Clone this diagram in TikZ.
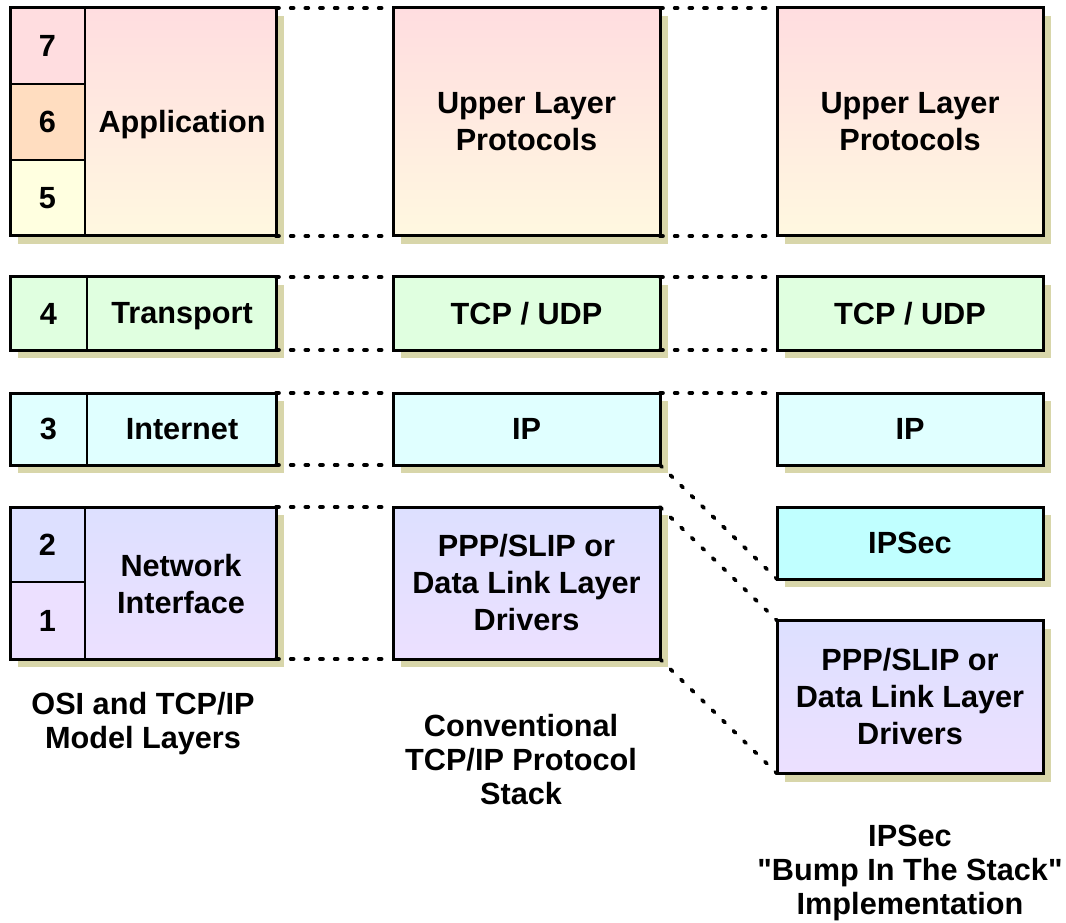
\documentclass[tikz,border=0pt]{standalone}
\usepackage{fontspec}
\setmainfont{Liberation Sans}[Ligatures=TeXOff]
\usetikzlibrary{shadows}
\definecolor{shadowc}{RGB}{216,214,170}
\definecolor{pinktop}{RGB}{255,221,224}
\definecolor{creambot}{RGB}{255,248,224}
\definecolor{peach}{RGB}{255,221,192}
\definecolor{lyellow}{RGB}{255,255,224}
\definecolor{lgreen}{RGB}{224,255,224}
\definecolor{lcyan}{RGB}{224,255,255}
\definecolor{cyan2}{RGB}{192,255,255}
\definecolor{lavtop}{RGB}{221,224,255}
\definecolor{lavbot}{RGB}{236,224,255}
\begin{document}
\begin{tikzpicture}[x=0.75pt,y=-0.75pt,
  txt/.style={font=\bfseries\fontsize{23}{27.75}\selectfont, align=center, text=black},
  box/.style={txt, draw=black, line width=2.25pt, inner sep=0pt, outer sep=0pt,
    drop shadow={shadow xshift=6pt, shadow yshift=-6pt, fill=shadowc, opacity=1, draw=none}},
  cell/.style={txt, draw=black, line width=0.9pt, inner sep=0pt, outer sep=0pt},
  upper/.style={box, top color=pinktop, bottom color=creambot},
  trans/.style={box, fill=lgreen},
  inet/.style={box, fill=lcyan},
  netw/.style={box, top color=lavtop, bottom color=lavbot},
  dotline/.style={draw=black, line width=2.8pt, line cap=round, dash pattern=on 2.2pt off 8.8pt},
  lbl/.style={font=\bfseries\fontsize{23}{25.5}\selectfont, align=center, text=black}]
\useasboundingbox (0,0) rectangle (1066,923);

% ---------- column 1 ----------
\node[upper, minimum width=199.5pt, minimum height=171pt] (app) at (143,122) {};
\node[cell, fill=pinktop, minimum width=56.25pt, minimum height=57pt] (c7) at (47.5,46) {7};
\node[cell, fill=peach, minimum width=56.25pt, minimum height=57pt] (c6) at (47.5,122) {6};
\node[cell, fill=lyellow, minimum width=56.25pt, minimum height=57pt] (c5) at (47.5,198) {5};
\node[txt] (applbl) at (182,125) {Application};
\draw[line width=2.25pt] (app.north west) rectangle (app.south east);

\node[trans, minimum width=199.5pt, minimum height=54.75pt] (tr1) at (143,313.5) {};
\node[cell, minimum width=57.75pt, minimum height=54.75pt] (c4) at (48.5,313.5) {4};
\node[txt] (trlbl) at (182,316) {Transport};
\draw[line width=2.25pt] (tr1.north west) rectangle (tr1.south east);

\node[inet, minimum width=199.5pt, minimum height=54pt] (in1) at (143,429) {};
\node[cell, minimum width=57.75pt, minimum height=54pt] (c3) at (48.5,429) {3};
\node[txt] (inlbl) at (182,429) {Internet};
\draw[line width=2.25pt] (in1.north west) rectangle (in1.south east);

\node[netw, minimum width=199.5pt, minimum height=114pt] (nw1) at (143,583) {};
\node[cell, fill=lavtop, minimum width=56.25pt, minimum height=56.25pt] (c2) at (47.5,544.5) {2};
\node[cell, fill=lavbot, minimum width=56.25pt, minimum height=57.75pt] (c1) at (47.5,620.5) {1};
\node[txt] (nwlbl) at (181,584) {Network\\Interface};
\draw[line width=2.25pt] (nw1.north west) rectangle (nw1.south east);

% ---------- column 2 ----------
\node[upper, minimum width=200.25pt, minimum height=171pt] (up2) at (526.5,122) {Upper Layer\\Protocols};
\node[trans, minimum width=200.25pt, minimum height=54.75pt] (tr2) at (526.5,313.5) {TCP / UDP};
\node[inet, minimum width=200.25pt, minimum height=54pt] (in2) at (526.5,429) {IP};
\node[netw, minimum width=200.25pt, minimum height=114pt] (nw2) at (526.5,583) {PPP/SLIP or\\Data Link Layer\\Drivers};

% ---------- column 3 ----------
\node[upper, minimum width=199.5pt, minimum height=171pt] (up3) at (910,122) {Upper Layer\\Protocols};
\node[trans, minimum width=199.5pt, minimum height=54.75pt] (tr3) at (910,313.5) {TCP / UDP};
\node[inet, minimum width=199.5pt, minimum height=54pt] (in3) at (910,429) {IP};
\node[box, fill=cyan2, minimum width=199.5pt, minimum height=54pt] (ips3) at (910,543) {IPSec};
\node[netw, minimum width=199.5pt, minimum height=114.75pt] (nw3) at (910,697) {PPP/SLIP or\\Data Link Layer\\Drivers};

% ---------- dotted connectors ----------
\draw[dotline] (app.north east) -- (up2.north west);
\draw[dotline] (app.south east) -- (up2.south west);
\draw[dotline] (tr1.north east) -- (tr2.north west);
\draw[dotline] (tr1.south east) -- (tr2.south west);
\draw[dotline] (in1.north east) -- (in2.north west);
\draw[dotline] (in1.south east) -- (in2.south west);
\draw[dotline] (nw1.north east) -- (nw2.north west);
\draw[dotline] (nw1.south east) -- (nw2.south west);

\draw[dotline] (up2.north east) -- (up3.north west);
\draw[dotline] (up2.south east) -- (up3.south west);
\draw[dotline] (tr2.north east) -- (tr3.north west);
\draw[dotline] (tr2.south east) -- (tr3.south west);
\draw[dotline] (in2.north east) -- (in3.north west);
\draw[dotline] (in2.south east) -- (ips3.south west);
\draw[dotline] (nw2.north east) -- (nw3.north west);
\draw[dotline] (nw2.south east) -- (nw3.south west);

% ---------- captions ----------
\node[lbl] (cap1) at (143,724) {OSI and TCP/IP\\Model Layers};
\node[lbl] (cap2) at (521,760) {Conventional\\TCP/IP Protocol\\Stack};
\node[lbl] (cap3) at (910,873) {IPSec\\"Bump In The Stack"\\Implementation};
\end{tikzpicture}
\end{document}
